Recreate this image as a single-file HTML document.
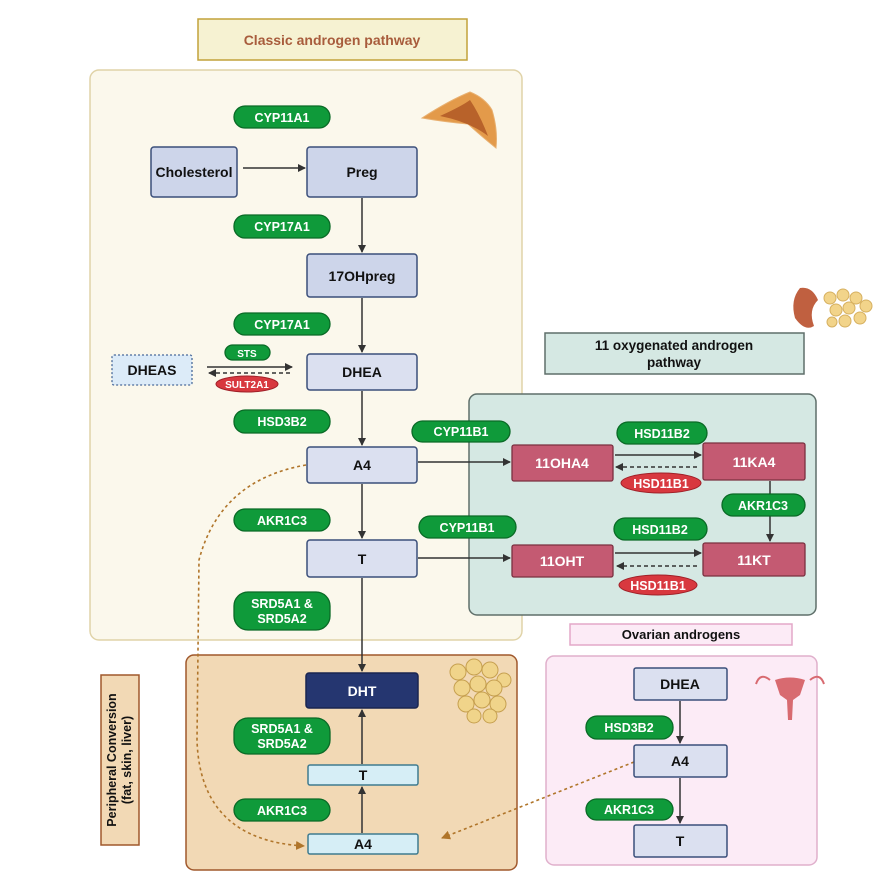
<!DOCTYPE html>
<html><head><meta charset="utf-8"><style>
html,body{margin:0;padding:0;background:#fff}
svg{display:block}
text{font-family:"Liberation Sans",Arial,sans-serif;font-weight:bold}
</style></head><body>
<svg width="886" height="878" viewBox="0 0 886 878" xmlns="http://www.w3.org/2000/svg">
<defs>
<marker id="ar" markerWidth="8" markerHeight="8" refX="7" refY="4" orient="auto" markerUnits="userSpaceOnUse"><path d="M0,0 L8,4 L0,8 z" fill="#333"/></marker>
<marker id="ob" markerWidth="9" markerHeight="9" refX="8" refY="4.5" orient="auto" markerUnits="userSpaceOnUse"><path d="M0,0 L9,4.5 L0,9 z" fill="#b0752a"/></marker>
</defs>
<!-- title -->
<rect x="198" y="19" width="269" height="41" fill="#f6f2d2" stroke="#c2a23a" stroke-width="1.5"/>
<text x="332" y="45" text-anchor="middle" font-size="14" fill="#a85c3c">Classic androgen pathway</text>
<!-- classic panel -->
<rect x="90" y="70" width="432" height="570" rx="9" fill="#fbf8ec" stroke="#e0d3a8" stroke-width="1.5"/>
<!-- adrenal icon -->
<path d="M422,118 Q450,100 470,92 Q485,98 492,110 Q498,130 496,148 Q480,135 468,124 Q445,122 422,118z" fill="#e39a4a" stroke="#e8b070"/>
<path d="M440,116 Q462,106 470,100 Q480,115 488,136 Q470,122 440,116z" fill="#b8622a"/>
<!-- green 11oxy panel -->
<rect x="469" y="394" width="347" height="221" rx="8" fill="#d5e8e3" stroke="#5f6f6a" stroke-width="1.5"/>
<rect x="545" y="333" width="259" height="41" fill="#d5e8e3" stroke="#5f6f6a" stroke-width="1.5"/>
<text x="674" y="350" text-anchor="middle" font-size="13.5" fill="#111">11 oxygenated androgen</text>
<text x="674" y="367" text-anchor="middle" font-size="13.5" fill="#111">pathway</text>
<!-- kidney & fat icons -->
<path d="M800,288 Q790,300 795,318 Q805,332 814,326 Q808,310 818,300 Q812,286 800,288z" fill="#c06040"/>
<g fill="#f2d48a" stroke="#d6b060">
<circle cx="830" cy="298" r="6"/><circle cx="843" cy="295" r="6"/><circle cx="856" cy="298" r="6"/><circle cx="866" cy="306" r="6"/><circle cx="836" cy="310" r="6"/><circle cx="849" cy="308" r="6"/><circle cx="860" cy="318" r="6"/><circle cx="845" cy="321" r="6"/><circle cx="832" cy="322" r="5"/>
</g>
<!-- bottom orange -->
<rect x="186" y="655" width="331" height="215" rx="8" fill="#f2d9b5" stroke="#a0582c" stroke-width="1.5"/>
<g fill="#f0d48a" stroke="#c6a050">
<circle cx="458" cy="672" r="8"/><circle cx="474" cy="667" r="8"/><circle cx="490" cy="670" r="8"/><circle cx="504" cy="680" r="7"/><circle cx="462" cy="688" r="8"/><circle cx="478" cy="684" r="8"/><circle cx="494" cy="688" r="8"/><circle cx="466" cy="704" r="8"/><circle cx="482" cy="700" r="8"/><circle cx="498" cy="704" r="8"/><circle cx="474" cy="716" r="7"/><circle cx="490" cy="716" r="7"/>
</g>
<rect x="101" y="675" width="38" height="170" fill="#f2d9b5" stroke="#a0582c" stroke-width="1.5"/>
<text transform="translate(116,760) rotate(-90)" text-anchor="middle" font-size="12.5" fill="#111">Peripheral Conversion</text>
<text transform="translate(131,760) rotate(-90)" text-anchor="middle" font-size="12.5" fill="#111">(fat, skin, liver)</text>
<!-- ovarian -->
<rect x="570" y="624" width="222" height="21" fill="#fcebf6" stroke="#e3a8c8" stroke-width="1.5"/>
<text x="681" y="639" text-anchor="middle" font-size="13" fill="#111">Ovarian androgens</text>
<rect x="546" y="656" width="271" height="209" rx="8" fill="#fcebf6" stroke="#e0b0cc" stroke-width="1.5"/>
<path d="M775,680 Q790,675 805,680 L800,695 L793,700 L792,720 L788,720 L787,700 L780,695z" fill="#d86a70"/>
<path d="M770,680 Q760,672 756,684 M810,680 Q820,672 824,684" stroke="#d86a70" stroke-width="2" fill="none"/>

<!-- connectors -->
<g stroke="#333" stroke-width="1.5" fill="none">
<line x1="243" y1="168" x2="305" y2="168" marker-end="url(#ar)"/>
<line x1="362" y1="198" x2="362" y2="252" marker-end="url(#ar)"/>
<line x1="362" y1="298" x2="362" y2="352" marker-end="url(#ar)"/>
<line x1="362" y1="391" x2="362" y2="445" marker-end="url(#ar)"/>
<line x1="362" y1="484" x2="362" y2="538" marker-end="url(#ar)"/>
<line x1="362" y1="578" x2="362" y2="671" marker-end="url(#ar)"/>
<line x1="207" y1="367" x2="292" y2="367" marker-end="url(#ar)"/>
<line x1="290" y1="373" x2="209" y2="373" stroke-dasharray="4,3" marker-end="url(#ar)"/>
<line x1="418" y1="462" x2="510" y2="462" marker-end="url(#ar)"/>
<line x1="418" y1="558" x2="510" y2="558" marker-end="url(#ar)"/>
<line x1="615" y1="455" x2="701" y2="455" marker-end="url(#ar)"/>
<line x1="697" y1="467" x2="616" y2="467" stroke-dasharray="4,3" marker-end="url(#ar)"/>
<line x1="615" y1="553" x2="701" y2="553" marker-end="url(#ar)"/>
<line x1="697" y1="566" x2="617" y2="566" stroke-dasharray="4,3" marker-end="url(#ar)"/>
<line x1="770" y1="481" x2="770" y2="541" marker-end="url(#ar)"/>
<line x1="362" y1="764" x2="362" y2="710" marker-end="url(#ar)"/>
<line x1="362" y1="833" x2="362" y2="787" marker-end="url(#ar)"/>
<line x1="680" y1="701" x2="680" y2="743" marker-end="url(#ar)"/>
<line x1="680" y1="778" x2="680" y2="823" marker-end="url(#ar)"/>
</g>
<g stroke="#b0752a" stroke-width="1.6" fill="none" stroke-dasharray="3,3">
<path d="M306,465 Q220,480 199,560 L197,740 Q200,840 304,846" marker-end="url(#ob)"/>
<path d="M634,762 L442,838" marker-end="url(#ob)"/>
</g>

<!-- nodes classic -->
<g stroke="#3b4f7a" stroke-width="1.5">
<rect x="151" y="147" width="86" height="50" rx="3" fill="#cdd5ea"/>
<rect x="307" y="147" width="110" height="50" rx="3" fill="#cdd5ea"/>
<rect x="307" y="254" width="110" height="43" rx="3" fill="#cdd5ea"/>
<rect x="307" y="354" width="110" height="36" rx="3" fill="#dbe0f0"/>
<rect x="307" y="447" width="110" height="36" rx="3" fill="#dbe0f0"/>
<rect x="307" y="540" width="110" height="37" rx="3" fill="#dbe0f0"/>
<rect x="634" y="668" width="93" height="32" rx="2" fill="#dbe0f0"/>
<rect x="634" y="745" width="93" height="32" rx="2" fill="#dbe0f0"/>
<rect x="634" y="825" width="93" height="32" rx="2" fill="#dbe0f0"/>
</g>
<rect x="112" y="355" width="80" height="30" rx="2" fill="#dcebf8" stroke="#4a6a9a" stroke-width="1.3" stroke-dasharray="2,2"/>
<rect x="306" y="673" width="112" height="35" rx="3" fill="#253670" stroke="#1a2550" stroke-width="1.5"/>
<g fill="#d6eef6" stroke="#3f7b8f" stroke-width="1.5">
<rect x="308" y="765" width="110" height="20" rx="2"/>
<rect x="308" y="834" width="110" height="20" rx="2"/>
</g>
<g fill="#c45a72" stroke="#7a3040" stroke-width="1.3">
<rect x="512" y="445" width="101" height="36" rx="2"/>
<rect x="703" y="443" width="102" height="37" rx="2"/>
<rect x="512" y="545" width="101" height="32" rx="2"/>
<rect x="703" y="543" width="102" height="33" rx="2"/>
</g>
<g font-size="14" fill="#111" text-anchor="middle">
<text x="194" y="177">Cholesterol</text>
<text x="362" y="177">Preg</text>
<text x="362" y="281">17OHpreg</text>
<text x="362" y="377">DHEA</text>
<text x="362" y="470">A4</text>
<text x="362" y="564">T</text>
<text x="152" y="375">DHEAS</text>
<text x="680" y="689">DHEA</text>
<text x="680" y="766">A4</text>
<text x="680" y="846">T</text>
<text x="363" y="780">T</text>
<text x="363" y="849">A4</text>
<text x="362" y="696" fill="#fff">DHT</text>
<text x="562" y="468" fill="#fff">11OHA4</text>
<text x="754" y="467" fill="#fff">11KA4</text>
<text x="562" y="566" fill="#fff">11OHT</text>
<text x="754" y="565" fill="#fff">11KT</text>
</g>
<!-- enzyme pills -->
<g fill="#0f9a3a" stroke="#0a6a26" stroke-width="1.3">
<rect x="234" y="106" width="96" height="22" rx="11"/>
<rect x="234" y="215" width="96" height="23" rx="11"/>
<rect x="234" y="313" width="96" height="22" rx="11"/>
<rect x="225" y="345" width="45" height="15" rx="7.5"/>
<rect x="234" y="410" width="96" height="23" rx="11"/>
<rect x="234" y="509" width="96" height="22" rx="11"/>
<rect x="234" y="592" width="96" height="38" rx="14"/>
<rect x="412" y="421" width="98" height="21" rx="10.5"/>
<rect x="419" y="516" width="97" height="22" rx="11"/>
<rect x="617" y="422" width="90" height="22" rx="11"/>
<rect x="614" y="518" width="93" height="22" rx="11"/>
<rect x="722" y="494" width="83" height="22" rx="11"/>
<rect x="234" y="718" width="96" height="36" rx="14"/>
<rect x="234" y="799" width="96" height="22" rx="11"/>
<rect x="586" y="716" width="87" height="23" rx="11"/>
<rect x="586" y="799" width="87" height="21" rx="10.5"/>
</g>
<g fill="#d8383f" stroke="#a02028" stroke-width="1">
<ellipse cx="247" cy="384" rx="31" ry="8"/>
<ellipse cx="661" cy="483" rx="40" ry="10"/>
<ellipse cx="658" cy="585" rx="39" ry="10"/>
</g>
<g font-size="12.5" fill="#fff" text-anchor="middle">
<text x="282" y="122">CYP11A1</text>
<text x="282" y="231">CYP17A1</text>
<text x="282" y="329">CYP17A1</text>
<text x="247" y="357" font-size="10">STS</text>
<text x="282" y="426">HSD3B2</text>
<text x="282" y="525">AKR1C3</text>
<text x="282" y="608">SRD5A1 &amp;</text>
<text x="282" y="623">SRD5A2</text>
<text x="461" y="436">CYP11B1</text>
<text x="467" y="532">CYP11B1</text>
<text x="662" y="438">HSD11B2</text>
<text x="660" y="534">HSD11B2</text>
<text x="763" y="510">AKR1C3</text>
<text x="282" y="733">SRD5A1 &amp;</text>
<text x="282" y="748">SRD5A2</text>
<text x="282" y="815">AKR1C3</text>
<text x="629" y="732">HSD3B2</text>
<text x="629" y="814">AKR1C3</text>
<text x="247" y="388" font-size="10">SULT2A1</text>
<text x="661" y="488">HSD11B1</text>
<text x="658" y="590">HSD11B1</text>
</g>
</svg>
</body></html>
